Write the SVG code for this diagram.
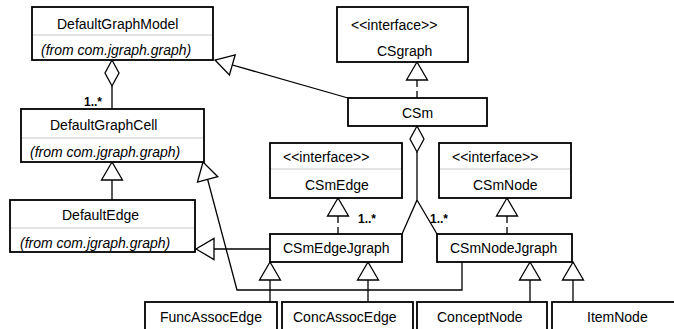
<svg xmlns="http://www.w3.org/2000/svg" width="674" height="329" viewBox="0 0 674 329">
  <style>
    .box { fill: #fff; stroke: #000; stroke-width: 1.8; }
    .div { stroke: #c8c8c8; stroke-width: 1; }
    .t { font-family: "Liberation Sans", Arial, sans-serif; font-size: 14px; fill: #000; }
    .it { font-style: italic; }
    .mult { font-family: "Liberation Sans", Arial, sans-serif; font-size: 12px; font-weight: bold; fill: #000; }
    .conn { fill: none; stroke: #000; stroke-width: 1.3; }
    .gen { marker-end: url(#tri); }
    .real { stroke-dasharray: 7 4; marker-end: url(#tri); }
    .dia { fill: #fff; stroke: #000; stroke-width: 1.3; }
  </style>
  <defs>
    <marker id="tri" viewBox="-20 -12 22 24" refX="0" refY="0" markerWidth="22" markerHeight="24" markerUnits="userSpaceOnUse" orient="auto">
      <path d="M0,0 L-18,-10.5 L-18,10.5 Z" fill="#fff" stroke="#000" stroke-width="1.3" stroke-dasharray="none"/>
    </marker>
  </defs>

  <rect width="674" height="329" fill="#fff"/>

  <!-- connectors -->
  <g id="connectors">
    <path class="conn gen" d="M348,98 L215,60"/>
    <path class="conn real" d="M417,98 L417,62"/>
    <path class="conn gen" d="M112,200 L112,162"/>
    <path class="conn gen" d="M270,249 L196,249"/>
    <path class="conn gen" d="M462,262 L462,290 L237,290 L203,162"/>
    <path class="conn real" d="M338,234 L338,198"/>
    <path class="conn real" d="M507,234 L507,198"/>
    <path class="conn gen" d="M270,302 L270,262"/>
    <path class="conn gen" d="M368,302 L368,262"/>
    <path class="conn gen" d="M530,302 L530,262"/>
    <path class="conn gen" d="M573,302 L573,262"/>
    <!-- aggregation DefaultGraphModel to DefaultGraphCell -->
    <path class="conn" d="M112,86 L112,109"/>
    <path class="dia" d="M112,60 L119,73 L112,86 L105,73 Z"/>
    <text class="mult" x="84" y="106">1..*</text>
    <!-- aggregation CSm to the two Jgraph classes -->
    <path class="conn" d="M417,152 L417,200 L402,234 M417,200 L437,234"/>
    <path class="dia" d="M417,126 L424,139 L417,152 L410,139 Z"/>
    <text class="mult" x="358" y="223">1..*</text>
    <text class="mult" x="430" y="223">1..*</text>
  </g>

  <g id="DefaultGraphModel">
    <rect class="box" x="32" y="7" width="181" height="53"/>
    <line class="div" x1="33" y1="35" x2="212" y2="35"/>
    <text class="t" x="57" y="29">DefaultGraphModel</text>
    <text class="t it" x="41" y="55">(from com.jgraph.graph)</text>
  </g>

  <g id="DefaultGraphCell">
    <rect class="box" x="21" y="109" width="183" height="53"/>
    <line class="div" x1="22" y1="138" x2="203" y2="138"/>
    <text class="t" x="50" y="130">DefaultGraphCell</text>
    <text class="t it" x="30" y="157">(from com.jgraph.graph)</text>
  </g>

  <g id="DefaultEdge">
    <rect class="box" x="10" y="200" width="185" height="52"/>
    <line class="div" x1="11" y1="228" x2="194" y2="228"/>
    <text class="t" x="62" y="220">DefaultEdge</text>
    <text class="t it" x="20" y="248">(from com.jgraph.graph)</text>
  </g>

  <g id="CSgraph">
    <rect class="box" x="337" y="7" width="131" height="55"/>
    <text class="t" x="351" y="30">&lt;&lt;interface&gt;&gt;</text>
    <text class="t" x="377" y="56">CSgraph</text>
  </g>

  <g id="CSm">
    <rect class="box" x="348" y="98" width="139" height="28"/>
    <text class="t" x="402" y="118">CSm</text>
  </g>

  <g id="CSmEdge">
    <rect class="box" x="270" y="143" width="132" height="55"/>
    <line class="div" x1="271" y1="169" x2="401" y2="169"/>
    <text class="t" x="283" y="162">&lt;&lt;interface&gt;&gt;</text>
    <text class="t" x="305" y="190">CSmEdge</text>
  </g>

  <g id="CSmNode">
    <rect class="box" x="439" y="143" width="132" height="55"/>
    <line class="div" x1="440" y1="169" x2="570" y2="169"/>
    <text class="t" x="452" y="162">&lt;&lt;interface&gt;&gt;</text>
    <text class="t" x="473" y="190">CSmNode</text>
  </g>

  <g id="CSmEdgeJgraph">
    <rect class="box" x="270" y="234" width="132" height="28"/>
    <text class="t" x="283" y="253">CSmEdgeJgraph</text>
  </g>

  <g id="CSmNodeJgraph">
    <rect class="box" x="437" y="234" width="135" height="28"/>
    <text class="t" x="450" y="253">CSmNodeJgraph</text>
  </g>

  <g id="FuncAssocEdge">
    <rect class="box" x="145" y="302" width="132" height="40"/>
    <text class="t" x="160" y="322">FuncAssocEdge</text>
  </g>

  <g id="ConcAssocEdge">
    <rect class="box" x="282" y="302" width="131" height="40"/>
    <text class="t" x="293" y="322">ConcAssocEdge</text>
  </g>

  <g id="ConceptNode">
    <rect class="box" x="417" y="302" width="130" height="40"/>
    <text class="t" x="437" y="322">ConceptNode</text>
  </g>

  <g id="ItemNode">
    <rect class="box" x="552" y="302" width="130" height="40"/>
    <text class="t" x="587" y="322">ItemNode</text>
  </g>
</svg>
